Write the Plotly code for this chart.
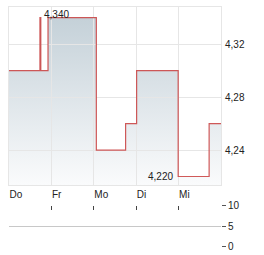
import plotly.graph_objects as go

# step points (x in trading days from Thursday, y price)
step_x = [0.0, 0.73, 0.75, 0.92, 2.06, 2.75, 3.01, 3.99, 4.72, 5.0]
step_y = [4.30, 4.34, 4.30, 4.34, 4.24, 4.26, 4.30, 4.22, 4.26, 4.26]
day_pos = [0, 1, 2, 3, 4]
day_labels = ["Do", "Fr", "Mo", "Di", "Mi"]
y_ticks = [4.24, 4.28, 4.32]
vol_ticks = [0, 5, 10]
hi_label = "4,340"
lo_label = "4,220"

W, H = 264, 255
x0, x1 = 9 / W, 221 / W
ydom = [1 - 185 / H, 1 - 7 / H]
yr = [4.2136, 4.348]
grid = "#e6e6e6"
txt = "#222222"
fnt = "Liberation Sans, Arial, sans-serif"

fig = go.Figure()
# gradient area (bottom subplot layer)
fig.add_trace(go.Scatter(
    x=step_x, y=step_y, mode="lines", line_shape="hv",
    line=dict(width=0, color="rgba(0,0,0,0)"),
    fill="tozeroy",
    fillgradient=dict(type="vertical", start=yr[0], stop=yr[1],
                      colorscale=[[0, "rgb(250,251,252)"], [1, "rgb(193,206,214)"]]),
    hoverinfo="skip", showlegend=False, xaxis="x", yaxis="y"))
# red step line in a second subplot with same domain (drawn above grid)
fig.add_trace(go.Scatter(
    x=step_x, y=step_y, mode="lines", line_shape="hv",
    line=dict(color="rgba(200,60,60,0.85)", width=1.2),
    hoverinfo="skip", showlegend=False, xaxis="x3", yaxis="y3"))
# empty volume panel trace
fig.add_trace(go.Scatter(x=[0, 5], y=[None, None], mode="lines", showlegend=False,
                         xaxis="x2", yaxis="y2", hoverinfo="skip"))

fig.update_layout(
    width=W, height=H, margin=dict(l=0, r=0, t=0, b=0, autoexpand=False),
    paper_bgcolor="white", plot_bgcolor="rgba(0,0,0,0)",
    separators=",.",
    font=dict(family=fnt, size=10, color=txt),
    xaxis=dict(domain=[x0, x1], range=[0, 5], visible=False, automargin=False,
               anchor="y"),
    yaxis=dict(domain=ydom, range=yr, visible=False, automargin=False, anchor="x"),
    xaxis3=dict(domain=[x0, x1], range=[0, 5], tickvals=day_pos, ticktext=day_labels,
                showgrid=True, gridcolor=grid, gridwidth=1, zeroline=False,
                showline=True, linecolor=grid, mirror=True, automargin=False,
                ticks="", ticklabelposition="outside right", anchor="y3",
                tickfont=dict(size=10, color=txt)),
    yaxis3=dict(domain=ydom, range=yr, side="right", automargin=False,
                tickvals=y_ticks, tickformat=".2f", showgrid=True, gridcolor=grid,
                zeroline=False, showline=True, linecolor=grid, mirror=True, ticks="",
                ticklabelstandoff=1, anchor="x3", tickfont=dict(size=10, color=txt)),
    xaxis2=dict(domain=[x0, x1], range=[0, 5], tickvals=day_pos, showticklabels=False,
                showgrid=False, zeroline=False, showline=False, anchor="y2",
                automargin=False, ticks="inside", ticklen=4, tickwidth=1,
                tickcolor="#444", side="top"),
    yaxis2=dict(domain=[1 - 246.7 / H, 1 - 205.7 / H], range=[0, 10], side="right",
                tickvals=vol_ticks, showgrid=True, gridcolor="#c8c8c8", zeroline=False,
                showline=False, ticks="outside", ticklen=4, tickcolor="#555",
                automargin=False, anchor="x2", tickfont=dict(size=10, color=txt)),
    annotations=[
        dict(x=0.75, y=4.34, xref="x3", yref="y3", text=hi_label, showarrow=False,
             xanchor="left", yanchor="middle", xshift=1, yshift=3,
             font=dict(size=10, color=txt)),
        dict(x=3.99, y=4.22, xref="x3", yref="y3", text=lo_label, showarrow=False,
             xanchor="right", yanchor="middle", xshift=-3,
             font=dict(size=10, color=txt)),
    ],
)

fig.write_html("out.html")
